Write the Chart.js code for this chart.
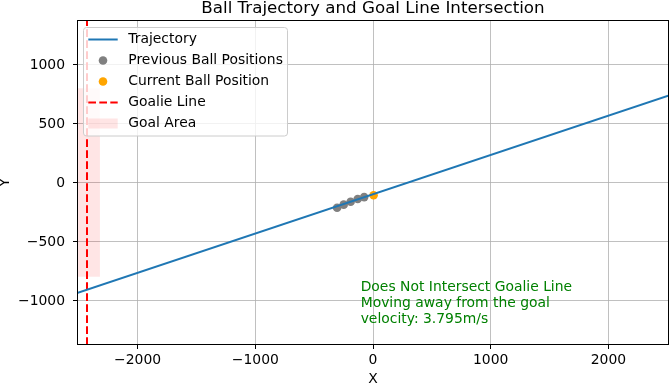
<!DOCTYPE html>
<html>
<head>
<meta charset="utf-8">
<script src="https://cdn.jsdelivr.net/npm/chart.js@4.4.1/dist/chart.umd.min.js"></script>
<style>
  body { margin: 0; background: white; }
  canvas { display: block; }
</style>
</head>
<body>
<canvas id="chart" width="671" height="385"></canvas>
<script>
// values
let trajX = [-2515, 2515]
let trajY = [-938, 740]
let prevX = [-305, -249, -190, -130, -75]
let prevY = [-215, -188, -163, -140, -124]
let currX = [5]
let currY = [-108]
let goalieX = -2430
let goalAreaX = [-2540, -2320]
let goalAreaY = [-800, 800]
let xRange = [-2515, 2515]
let yRange = [-1380, 1380]
let xTicks = [-2000, -1000, 0, 1000, 2000]
let yTicks = [-1000, -500, 0, 500, 1000]
let infoX = -105
let infoY = -924
let infoLines = ["Does Not Intersect Goalie Line", "Moving away from the goal", "velocity: 3.795m/s"]
let titleText = "Ball Trajectory and Goal Line Intersection"

let font = "DejaVu Sans"
let fontPx = 13.9

function pts(xs, ys) {
    let out = []
    for (let i = 0; i < xs.length; i++) {
        out.push({ x: xs[i], y: ys[i] })
    }
    return out
}

function minusSign(v) {
    return String(v).replace("-", "\u2212")
}

// legend, frame, title and text box drawn like matplotlib
let extras = {
    id: "extras",
    afterDatasetsDraw(chart) {
        let ctx = chart.ctx
        let a = chart.chartArea
        let xs = chart.scales.x
        let ys = chart.scales.y
        ctx.save()

        ctx.strokeStyle = "#000"
        ctx.lineWidth = 1
        ctx.strokeRect(a.left + 0.5, a.top + 0.5, a.right - a.left - 1, a.bottom - a.top - 1)

        // green info text
        ctx.fillStyle = "#008000"
        ctx.font = fontPx + "px '" + font + "'"
        ctx.textAlign = "left"
        ctx.textBaseline = "alphabetic"
        let tx = xs.getPixelForValue(infoX)
        let ty = ys.getPixelForValue(infoY)
        for (let i = 0; i < infoLines.length; i++) {
            ctx.fillText(infoLines[i], tx, ty + i * 16)
        }

        // legend box
        let lx = 83.5, ly = 27.5, lw = 204, lh = 108.5
        ctx.beginPath()
        ctx.roundRect(lx, ly, lw, lh, 3)
        ctx.fillStyle = "rgba(255,255,255,0.8)"
        ctx.fill()
        ctx.strokeStyle = "#cccccc"
        ctx.lineWidth = 1
        ctx.stroke()

        let sets = chart.data.datasets
        for (let i = 0; i < sets.length; i++) {
            let ds = sets[i]
            let rowY = 39.5 + i * 21
            let h0 = 88.3, h1 = 117.7
            if (ds.legendKind == "line") {
                ctx.beginPath()
                ctx.setLineDash(ds.borderDash || [])
                ctx.strokeStyle = ds.borderColor
                ctx.lineWidth = ds.borderWidth
                ctx.moveTo(h0, rowY)
                ctx.lineTo(h1, rowY)
                ctx.stroke()
                ctx.setLineDash([])
            } else if (ds.legendKind == "point") {
                ctx.beginPath()
                ctx.fillStyle = ds.backgroundColor
                ctx.arc((h0 + h1) / 2, rowY, ds.pointRadius, 0, Math.PI * 2)
                ctx.fill()
            } else {
                ctx.fillStyle = ds.backgroundColor
                ctx.fillRect(h0, rowY - 5, h1 - h0, 10)
            }
            ctx.fillStyle = "#000"
            ctx.textBaseline = "middle"
            ctx.fillText(ds.label, 128.3, rowY)
        }

        // title
        ctx.fillStyle = "#000"
        ctx.font = "16.7px '" + font + "'"
        ctx.textAlign = "center"
        ctx.textBaseline = "alphabetic"
        ctx.fillText(titleText, (a.left + a.right) / 2, 12.5)
        ctx.restore()
    }
}

let chart = new Chart(document.getElementById("chart"), {
    type: "scatter",
    data: {
        datasets: [
            {
                label: "Trajectory",
                type: "line",
                legendKind: "line",
                data: pts(trajX, trajY),
                borderColor: "#1f77b4",
                borderWidth: 2,
                pointRadius: 0,
                fill: false,
                order: 0
            },
            {
                label: "Previous Ball Positions",
                legendKind: "point",
                data: pts(prevX, prevY),
                backgroundColor: "#808080",
                borderWidth: 0,
                pointRadius: 4.3,
                order: 2
            },
            {
                label: "Current Ball Position",
                legendKind: "point",
                data: pts(currX, currY),
                backgroundColor: "#ffa500",
                borderWidth: 0,
                pointRadius: 4.3,
                order: 1
            },
            {
                label: "Goalie Line",
                type: "line",
                legendKind: "line",
                data: pts([goalieX, goalieX], yRange),
                borderColor: "#ff0000",
                borderWidth: 2,
                borderDash: [7.7, 3.3],
                pointRadius: 0,
                fill: false,
                order: 3
            },
            {
                label: "Goal Area",
                type: "line",
                legendKind: "patch",
                data: pts(goalAreaX, [goalAreaY[1], goalAreaY[1]]),
                backgroundColor: "rgba(255,0,0,0.1)",
                borderWidth: 0,
                pointRadius: 0,
                fill: { value: goalAreaY[0] },
                order: 4
            }
        ]
    },
    options: {
        responsive: false,
        animation: false,
        events: [],
        layout: { autoPadding: false, padding: { top: 20, right: 2, left: 0, bottom: 0 } },
        plugins: {
            legend: { display: false },
            tooltip: { enabled: false }
        },
        scales: {
            x: {
                type: "linear",
                min: xRange[0],
                max: xRange[1],
                afterBuildTicks: axis => { axis.ticks = xTicks.map(v => ({ value: v })) },
                afterFit: axis => { axis.height = 40 },
                grid: { color: "#b0b0b0", lineWidth: 0.8, tickColor: "#000", tickLength: 4, tickWidth: 1 },
                border: { display: false },
                ticks: {
                    color: "#000",
                    padding: 3,
                    maxRotation: 0,
                    font: { family: font, size: fontPx },
                    callback: v => minusSign(v)
                },
                title: {
                    display: true,
                    text: "X",
                    color: "#000",
                    font: { family: font, size: fontPx, lineHeight: 1 },
                    padding: { top: 0, bottom: -1 }
                }
            },
            y: {
                type: "linear",
                min: yRange[0],
                max: yRange[1],
                afterBuildTicks: axis => { axis.ticks = yTicks.map(v => ({ value: v })) },
                afterFit: axis => { axis.width = 77 },
                grid: { color: "#b0b0b0", lineWidth: 0.8, tickColor: "#000", tickLength: 4, tickWidth: 1 },
                border: { display: false },
                ticks: {
                    color: "#000",
                    padding: 8,
                    labelOffset: 1,
                    font: { family: font, size: fontPx },
                    callback: v => minusSign(v)
                },
                title: {
                    display: true,
                    text: "Y",
                    color: "#000",
                    font: { family: font, size: fontPx, lineHeight: 1 },
                    padding: { top: -2, bottom: 0 }
                }
            }
        }
    },
    plugins: [extras]
})
</script>
</body>
</html>
